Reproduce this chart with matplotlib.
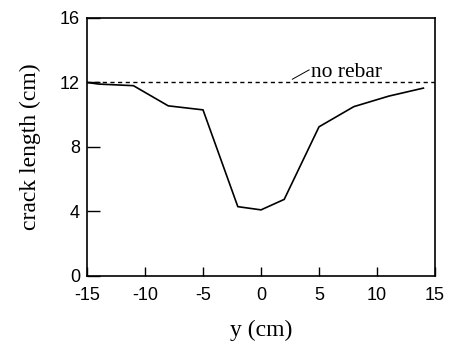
import matplotlib
matplotlib.use("Agg")
import matplotlib.pyplot as plt

plt.rcParams["axes.unicode_minus"] = False

# crack length measured across the specimen width
y_pos = [-15, -14, -11, -8, -5, -2, 0, 2, 5, 8, 11, 14]
crack_len = [12.0, 11.9, 11.8, 10.55, 10.3, 4.3, 4.1, 4.75, 9.25, 10.5, 11.15, 11.65]

# reference case without rebar
no_rebar = 12.0
x_ticks = [-15, -10, -5, 0, 5, 10, 15]
y_ticks = [0, 4, 8, 12, 16]

serif = ["Liberation Serif", "DejaVu Serif"]
sans = ["Liberation Sans", "DejaVu Sans"]

fig = plt.figure(figsize=(4.51, 3.45), dpi=100)
ax = fig.add_axes([0.193, 0.2, 0.7715, 0.748])

ax.plot(y_pos, crack_len, color="black", lw=1.2)
ax.plot([-15, 15], [no_rebar, no_rebar], color="black", lw=1.0,
        linestyle=(0, (3, 2.5)))

# label with a short leader line pointing at the dashed line
ax.plot([2.7, 4.15], [12.2, 12.78], color="black", lw=0.7)
ax.text(4.3, 12.62, "no rebar", family=serif, fontsize=15.5,
        ha="left", va="center")

ax.set_xlim(-15, 15)
ax.set_ylim(0, 16)
ax.set_xticks(x_ticks)
ax.set_yticks(y_ticks)
ax.tick_params(axis="x", direction="in", length=6.5, width=1.0, pad=8,
               labelsize=13)
ax.tick_params(axis="y", direction="in", length=9.5, width=1.0, pad=5,
               labelsize=13)
for lab in ax.get_xticklabels() + ax.get_yticklabels():
    lab.set_family(sans)
for sp in ax.spines.values():
    sp.set_linewidth(1.2)

ax.set_xlabel("y (cm)", family=serif, fontsize=17, labelpad=11)
ax.set_ylabel("crack length (cm)", family=serif, fontsize=17, labelpad=14)

fig.savefig("out.png", dpi=100)
